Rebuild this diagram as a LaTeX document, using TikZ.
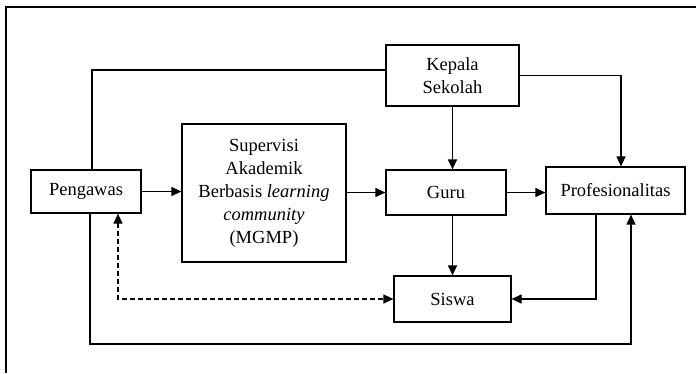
\documentclass[tikz,border=0pt]{standalone}
\usepackage{fontspec}
\setmainfont{Liberation Serif}
\usetikzlibrary{arrows.meta}
\tikzset{
	kotak/.style={draw, line width=1.2pt, align=center, inner sep=0pt, font=\fontsize{18.5}{23}\selectfont},
	panah/.style={line width=1.2pt, -{Triangle[length=10pt,width=9pt]}},
	garis/.style={line width=1.2pt}
}

\begin{document}
\begin{tikzpicture}[x=1pt,y=-1pt]
			%%%%% START %%%%%
			
			\useasboundingbox (0,0) rectangle (696,373);
			\draw[garis] (6,373) -- (6,7) -- (696,7);
			
			\node[kotak, minimum width=110pt, minimum height=43pt] (peng) at (86,191.5) {Pengawas};
			\node[kotak, minimum width=164pt, minimum height=138pt] (sup) at (264,193) {Supervisi\\Akademik\\Berbasis \textit{learning}\\\textit{community}\\(MGMP)};
			\node[kotak, minimum width=133pt, minimum height=61pt] (kep) at (452.5,75.5) {Kepala\\Sekolah};
			\node[kotak, minimum width=120pt, minimum height=45pt] (guru) at (446,192.5) {Guru};
			\node[kotak, minimum width=139pt, minimum height=47pt] (prof) at (615.5,190.5) {Profesionalitas};
			\node[kotak, minimum width=117pt, minimum height=46pt] (siswa) at (452.5,299) {Siswa};
			
			\coordinate (bawah) at (90,344);
			
			\draw[garis] ([xshift=6pt]peng.north) |- ([yshift=5.5pt]kep.west);
			\draw[panah] (kep.east) -| ([xshift=5.5pt]prof.north);
			\draw[panah] (kep.south) -- (kep.south |- guru.north);
			
			\draw[panah] (peng.east) -- (peng.east -| sup.west);
			\draw[panah] (sup.east |- guru.west) -- (guru.west);
			\draw[panah] (guru.east) -- (guru.east -| prof.west);
			
			\draw[panah] (siswa.north |- guru.south) -- (siswa.north);
			\draw[panah] ([xshift=-19.5pt]prof.south) |- (siswa.east);
			\draw[panah, {Triangle[length=10pt,width=9pt]}-{Triangle[length=10pt,width=9pt]}, dash pattern=on 5pt off 3pt] ([xshift=32pt]peng.south) |- (siswa.west);
			\draw[panah] ([xshift=4pt]peng.south) -- (bawah) -| ([xshift=15.5pt]prof.south);
			
			%%%%% END %%%%%
\end{tikzpicture}
\end{document}
